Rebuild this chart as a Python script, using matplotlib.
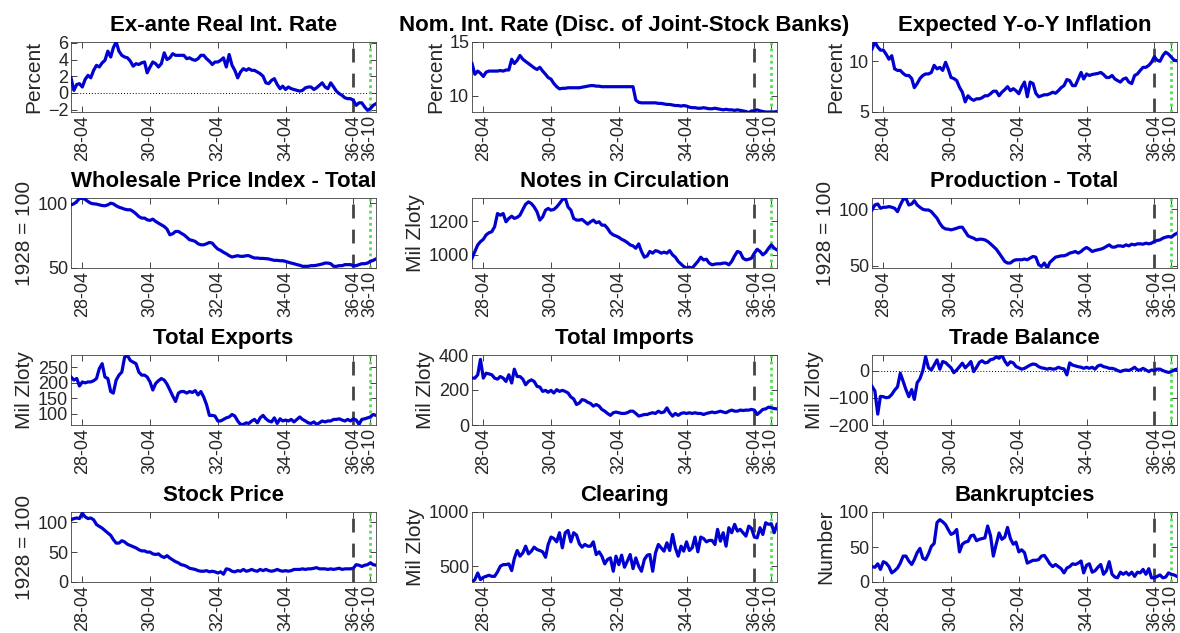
import matplotlib
matplotlib.use("Agg")
import matplotlib.pyplot as plt
import pandas as pd

plt.rcParams['font.family'] = ['Liberation Sans', 'DejaVu Sans']

# monthly, 1927-12 .. 1936-12
dates = pd.date_range("1927-12-01", periods=109, freq="MS")
tick_dates = pd.to_datetime(["1928-04-01", "1930-04-01", "1932-04-01",
                             "1934-04-01", "1936-04-01", "1936-10-01"])
tick_labels = [d.strftime("%y-%m") for d in tick_dates]
forecast_start = pd.Timestamp("1936-04-01")
forecast_end = pd.Timestamp("1936-10-01")

real_rate = [1.8, 0.3, 1.0, 1.1, 0.7, 1.6, 2.1, 1.8, 2.7, 3.3,
             3.1, 3.6, 3.9, 5.0, 4.3, 5.4, 6.1, 5.0, 4.5, 4.3,
             4.2, 3.8, 3.2, 3.5, 3.4, 3.6, 3.7, 2.4, 3.1, 3.7,
             3.5, 3.1, 3.5, 4.8, 4.0, 4.2, 4.7, 4.5, 4.5, 4.5,
             4.5, 4.1, 4.2, 4.0, 3.9, 4.1, 4.5, 4.5, 4.1, 3.8,
             3.4, 3.7, 3.7, 3.9, 4.2, 3.1, 4.6, 3.3, 2.7, 1.8,
             2.5, 2.9, 2.7, 2.9, 2.7, 2.7, 2.5, 2.3, 2.0, 1.2,
             1.1, 1.5, 1.7, 1.0, 0.5, 0.8, 0.4, 0.7, 0.5, 0.4,
             0.3, 0.2, 0.3, 0.6, 0.7, 0.7, 0.4, 0.6, 0.9, 1.2,
             0.7, 0.5, 1.2, 0.7, 0.2, -0.1, -0.3, -0.6, -0.7, -0.7,
             -0.9, -1.5, -1.2, -1.2, -1.7, -2.1, -1.9, -1.5, -1.3]

nom_rate = [13.0, 12.0, 12.3, 12.1, 11.8, 12.2, 12.3, 12.3, 12.3, 12.3,
            12.35, 12.3, 12.4, 12.4, 13.4, 13.0, 13.3, 13.75, 13.4, 13.2,
            13.0, 12.8, 12.6, 12.45, 12.65, 12.3, 12.0, 11.7, 11.55, 11.15,
            10.85, 10.65, 10.7, 10.7, 10.75, 10.75, 10.75, 10.75, 10.75, 10.8,
            10.85, 10.9, 10.95, 10.95, 10.9, 10.9, 10.85, 10.85, 10.85, 10.85,
            10.85, 10.85, 10.85, 10.85, 10.85, 10.85, 10.85, 10.85, 9.6, 9.4,
            9.35, 9.35, 9.35, 9.35, 9.35, 9.35, 9.3, 9.3, 9.25, 9.2,
            9.2, 9.15, 9.1, 9.1, 9.05, 9.1, 9.05, 8.95, 8.9, 8.9,
            8.85, 8.85, 8.9, 8.85, 8.8, 8.8, 8.85, 8.8, 8.75, 8.7,
            8.75, 8.7, 8.7, 8.65, 8.7, 8.65, 8.6, 8.55, 8.45, 8.6,
            8.6, 8.7, 8.6, 8.55, 8.5, 8.5, 8.5, 8.5, 8.55]

exp_infl = [11.2, 11.9, 11.4, 11.1, 11.1, 10.7, 10.2, 10.55, 9.25, 9.1,
            9.1, 8.8, 8.6, 8.6, 8.3, 7.4, 7.8, 8.3, 8.6, 8.75,
            8.75, 8.9, 9.6, 9.25, 9.4, 9.1, 9.9, 9.25, 8.4, 8.3,
            8.1, 7.45, 6.95, 6.0, 6.6, 6.3, 6.15, 6.3, 6.3, 6.4,
            6.6, 6.6, 6.8, 7.05, 7.05, 6.6, 6.95, 7.2, 7.5, 7.1,
            7.3, 7.1, 6.8, 7.45, 7.95, 6.5, 7.95, 7.8, 6.85, 6.5,
            6.6, 6.7, 6.7, 6.8, 6.95, 6.85, 7.1, 7.4, 7.6, 8.2,
            8.1, 7.6, 7.6, 8.25, 8.9, 8.25, 8.75, 8.6, 8.7, 8.75,
            8.8, 8.9, 8.7, 8.4, 8.4, 8.6, 8.25, 8.1, 7.95, 8.25,
            8.35, 7.95, 7.8, 8.6, 8.75, 9.1, 9.4, 9.4, 9.6, 9.9,
            10.45, 10.1, 10.0, 10.55, 10.9, 10.7, 10.4, 10.1, 10.05]

wpi = [98.7, 99.5, 101.3, 103.6, 103.8, 103.0, 101.3, 100.0, 99.5, 99.3,
       98.7, 98.2, 98.0, 98.7, 100.0, 99.5, 98.0, 96.9, 96.2, 95.4,
       94.9, 94.9, 93.6, 91.8, 89.7, 88.5, 88.5, 87.2, 86.7, 87.7,
       85.9, 84.6, 83.3, 82.0, 80.0, 75.6, 76.4, 78.2, 78.2, 76.9,
       75.6, 73.8, 71.8, 71.3, 70.5, 68.7, 67.9, 67.9, 68.7, 69.7,
       69.2, 66.7, 64.6, 63.6, 62.1, 61.0, 59.5, 58.5, 59.0, 59.5,
       59.0, 59.0, 59.5, 59.5, 58.5, 57.7, 57.7, 57.4, 57.4, 57.2,
       57.0, 56.4, 55.9, 55.9, 55.6, 55.6, 55.1, 54.4, 53.8, 53.3,
       52.6, 52.1, 51.3, 51.3, 51.3, 51.8, 51.8, 52.1, 52.6, 53.1,
       53.8, 53.8, 53.3, 51.3, 51.3, 51.8, 51.8, 52.6, 52.6, 52.6,
       51.8, 51.8, 52.6, 53.3, 53.3, 53.8, 55.1, 55.9, 57.0]

notes = [980, 1020, 1059, 1078, 1092, 1118, 1131, 1137, 1167, 1245,
         1235, 1245, 1196, 1216, 1229, 1216, 1222, 1235, 1269, 1300,
         1314, 1304, 1284, 1255, 1206, 1225, 1265, 1275, 1265, 1269,
         1284, 1304, 1327, 1337, 1284, 1265, 1216, 1206, 1206, 1210,
         1196, 1182, 1196, 1206, 1190, 1196, 1176, 1176, 1157, 1131,
         1118, 1112, 1104, 1092, 1084, 1073, 1059, 1053, 1039, 1065,
         1020, 986, 994, 1020, 1010, 1025, 1020, 1010, 1016, 1010,
         1025, 1000, 986, 961, 945, 931, 922, 927, 922, 941,
         961, 986, 970, 974, 951, 941, 945, 947, 947, 951,
         951, 941, 961, 994, 1020, 1014, 980, 970, 974, 980,
         1010, 1033, 1020, 1000, 1014, 1039, 1059, 1039, 1029]

production = [99.4, 103.8, 104.7, 100.9, 101.8, 101.8, 102.4, 101.8, 100.9, 97.9,
              103.8, 108.8, 109.5, 103.8, 104.7, 107.6, 103.8, 101.8, 100.0, 99.4,
              99.4, 97.9, 95.0, 92.1, 87.6, 84.1, 82.6, 82.4, 81.8, 82.4,
              83.2, 84.1, 84.1, 80.3, 76.5, 75.3, 74.4, 72.9, 73.5, 73.5,
              72.9, 71.5, 69.4, 67.1, 64.7, 61.2, 57.6, 53.8, 52.4, 52.4,
              54.4, 55.3, 55.3, 55.3, 55.9, 55.3, 56.8, 58.2, 57.6, 50.9,
              49.4, 52.4, 47.9, 52.9, 55.3, 57.6, 58.2, 58.8, 58.8, 59.7,
              61.2, 61.8, 62.6, 61.2, 62.6, 64.7, 66.2, 64.7, 62.6, 63.5,
              64.1, 64.7, 65.6, 67.1, 68.5, 66.5, 66.5, 67.6, 67.6, 67.1,
              68.5, 67.6, 69.1, 68.5, 69.4, 69.4, 69.1, 70.0, 69.4, 70.0,
              71.5, 72.4, 72.9, 74.4, 75.3, 75.9, 75.3, 77.4, 78.8]

exports = [218, 208, 213, 189, 202, 199, 202, 202, 206, 213,
           245, 261, 218, 213, 171, 166, 208, 224, 234, 282,
           287, 271, 266, 261, 234, 224, 224, 218, 202, 176,
           197, 206, 213, 208, 195, 176, 157, 139, 166, 171,
           171, 166, 171, 168, 174, 160, 171, 153, 129, 94,
           94, 92, 76, 76, 81, 86, 89, 97, 92, 76,
           65, 65, 70, 68, 76, 81, 70, 86, 94, 83,
           76, 73, 86, 68, 83, 76, 79, 76, 81, 73,
           81, 89, 81, 76, 70, 68, 73, 65, 70, 76,
           73, 76, 76, 81, 81, 83, 79, 76, 81, 76,
           83, 79, 65, 81, 83, 86, 89, 97, 94]

imports = [268, 268, 287, 375, 268, 296, 292, 287, 268, 262,
           277, 268, 249, 287, 240, 319, 277, 277, 262, 230,
           249, 258, 249, 221, 217, 192, 198, 187, 198, 183,
           202, 192, 198, 192, 183, 160, 149, 117, 126, 145,
           141, 130, 123, 108, 117, 108, 89, 79, 66, 55,
           70, 74, 70, 66, 66, 70, 79, 79, 66, 51,
           55, 60, 60, 66, 70, 66, 79, 70, 74, 98,
           70, 51, 66, 55, 66, 70, 66, 70, 66, 70,
           66, 66, 60, 66, 70, 74, 70, 74, 79, 74,
           70, 79, 85, 79, 79, 85, 83, 85, 85, 89,
           85, 60, 74, 89, 92, 102, 98, 94, 92]

trade_balance = [-58, -75, -160, -95, -96, -100, -98, -88, -72, -60,
                 -10, -40, -70, -96, -70, -106, -45, -30, 0, 51,
                 10, 2, 20, 39, 5, 33, 29, 20, 10, -8,
                 2, 14, 27, 10, 20, 33, -4, 12, 30, 36,
                 28, 30, 40, 42, 50, 45, 57, 35, 20, 32,
                 28, 15, 10, 5, 8, 14, 20, 24, 22, 14,
                 10, 8, 5, 8, 5, 6, 12, 8, 6, -16,
                 28, 20, 17, 14, 12, 8, 12, 8, 12, 5,
                 17, 20, 14, 12, 8, 8, 5, 0, -4, 0,
                 2, 0, 5, 12, 2, 2, 8, 2, -4, 2,
                 0, 5, 5, 0, -4, -7, -4, 2, 5]

stock_price = [104, 106, 107, 106, 115, 109, 106, 107, 104, 96,
               93, 90, 86, 82, 78, 71, 65, 65, 69, 67,
               63, 61, 59, 57, 54, 52, 52, 50, 50, 47,
               46, 47, 43, 41, 44, 40, 37, 34, 32, 29,
               28, 26, 23, 22, 21, 19, 18, 18, 19, 17,
               18, 17, 15, 17, 13, 22, 21, 18, 17, 19,
               18, 21, 18, 19, 21, 19, 18, 21, 19, 21,
               19, 18, 19, 21, 19, 18, 19, 18, 19, 21,
               21, 21, 22, 21, 22, 22, 23, 24, 22, 22,
               22, 21, 22, 21, 22, 23, 21, 22, 22, 22,
               23, 29, 28, 26, 28, 29, 32, 29, 28]

clearing = [355, 377, 438, 377, 398, 407, 417, 407, 407, 448,
            500, 515, 515, 522, 460, 571, 645, 593, 623, 685,
            614, 639, 676, 654, 645, 633, 583, 701, 769, 756,
            725, 809, 670, 809, 830, 725, 809, 787, 707, 676,
            701, 685, 685, 725, 608, 633, 593, 522, 562, 577,
            454, 593, 515, 602, 491, 546, 608, 478, 577, 500,
            454, 562, 602, 608, 454, 623, 701, 670, 639, 716,
            645, 793, 670, 593, 685, 639, 725, 645, 670, 769,
            633, 769, 756, 725, 738, 738, 701, 840, 731, 809,
            685, 855, 809, 886, 824, 840, 809, 778, 870, 849,
            769, 762, 855, 793, 901, 886, 892, 809, 886]

bankruptcies = [22, 21, 26, 18, 29, 27, 22, 13, 16, 20,
                27, 37, 37, 30, 25, 32, 42, 48, 34, 32,
                40, 51, 55, 85, 89, 86, 82, 75, 68, 70,
                75, 43, 54, 57, 58, 66, 67, 59, 61, 62,
                63, 80, 66, 37, 54, 70, 61, 64, 78, 62,
                54, 57, 43, 46, 42, 27, 29, 31, 31, 32,
                37, 38, 32, 26, 22, 25, 22, 19, 13, 20,
                22, 26, 25, 27, 30, 13, 24, 26, 14, 16,
                21, 25, 11, 16, 29, 11, 7, 6, 14, 11,
                14, 10, 14, 8, 14, 13, 18, 11, 19, 6,
                6, 8, 10, 6, 7, 13, 11, 10, 8]

# title, ylabel, series, ylim, yticks, dotted zero line
panels = [
    ("Ex-ante Real Int. Rate", "Percent", real_rate, (-2.3, 6.1), [-2, 0, 2, 4, 6], True),
    ("Nom. Int. Rate (Disc. of Joint-Stock Banks)", "Percent", nom_rate, (8.5, 15), [10, 15], False),
    ("Expected Y-o-Y Inflation", "Percent", exp_infl, (5, 11.9), [5, 10], False),
    ("Wholesale Price Index - Total", "1928 = 100", wpi, (50, 104), [50, 100], False),
    ("Notes in Circulation", "Mil Zloty", notes, (922, 1337), [1000, 1200], False),
    ("Production - Total", "1928 = 100", production, (48, 110), [50, 100], False),
    ("Total Exports", "Mil Zloty", exports, (63, 289), [100, 150, 200, 250], False),
    ("Total Imports", "Mil Zloty", imports, (0, 400), [0, 200, 400], False),
    ("Trade Balance", "Mil Zloty", trade_balance, (-200, 57), [-200, -100, 0], True),
    ("Stock Price", "1928 = 100", stock_price, (0, 117), [0, 50, 100], False),
    ("Clearing", "Mil Zloty", clearing, (355, 1000), [500, 1000], False),
    ("Bankruptcies", "Number", bankruptcies, (0, 100), [0, 50, 100], False),
]

W, H = 1180, 633
col_left = [71, 472, 872]
row_top = [42, 198, 355, 512]
ax_w, ax_h = 305, 70

fig = plt.figure(figsize=(W / 100, H / 100), dpi=100)

for i, (title, ylab, series, ylim, yticks, zero) in enumerate(panels):
    r, c = divmod(i, 3)
    ax = fig.add_axes([col_left[c] / W, (H - row_top[r] - ax_h) / H, ax_w / W, ax_h / H])
    assert len(series) == len(dates), title
    ax.plot(dates, series, color=(0, 0, 0.82), lw=2.3, zorder=3)
    if zero:
        ax.axhline(0, color="black", lw=0.7, ls=(0, (1, 2)), zorder=1)
    ax.axvline(forecast_start, color="#454545", lw=2.0, ls=(0, (5, 4)), zorder=2)
    ax.axvline(forecast_end, color="#55dd55", lw=2.0, ls=(0, (1, 1.2)), zorder=2)
    ax.set_xlim(dates[0], dates[-1])
    ax.set_ylim(*ylim)
    ax.set_yticks(yticks)
    ax.set_xticks(tick_dates)
    ax.set_xticklabels(tick_labels, rotation=90)
    ax.tick_params(axis="both", direction="in", length=4, width=0.6,
                   top=True, right=True, labelsize=13, colors="#262626", pad=2)
    for sp in ax.spines.values():
        sp.set_color("#404040")
        sp.set_linewidth(0.6)
    ax.set_title(title, fontsize=16, fontweight="bold", pad=8)
    ax.set_ylabel(ylab, fontsize=15, color="#262626", labelpad=3)

fig.savefig("out.png", dpi=100)
